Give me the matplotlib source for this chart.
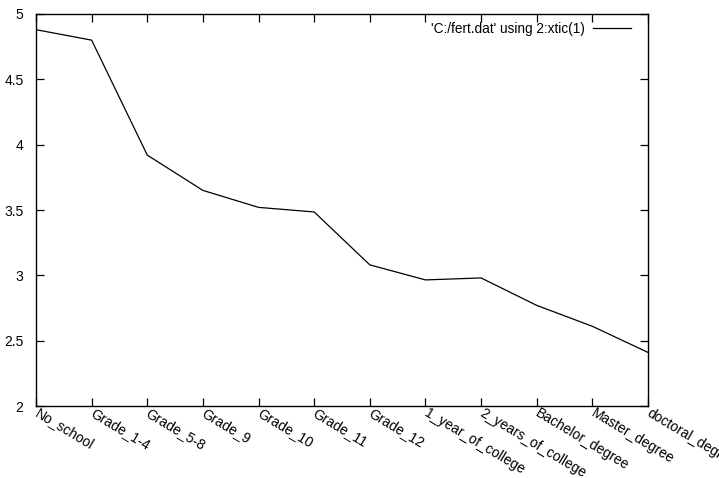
import matplotlib
matplotlib.use("Agg")
import matplotlib.pyplot as plt

plt.rcParams['font.family'] = ['Liberation Sans', 'DejaVu Sans']

# education level vs fertility
categories = ["No_school", "Grade_1-4", "Grade_5-8", "Grade_9", "Grade_10", "Grade_11",
              "Grade_12", "1_year_of_college", "2_years_of_college", "Bachelor_degree",
              "Master_degree", "doctoral_degree"]
fert = [4.88, 4.80, 3.92, 3.65, 3.52, 3.485, 3.08, 2.965, 2.98, 2.77, 2.61, 2.41]
yticks = [2, 2.5, 3, 3.5, 4, 4.5, 5]

fig = plt.figure(figsize=(7.19, 4.78), dpi=100)
ax = fig.add_axes([36 / 719, 72 / 478, 612 / 719, 392 / 478])

x = list(range(len(categories)))
ax.plot(x, fert, color='black', lw=0.9, label="'C:/fert.dat' using 2:xtic(1)")

ax.set_xlim(0, len(categories) - 1)
ax.set_ylim(2, 5)
ax.set_yticks(yticks)
ax.set_yticklabels([f"{v:g}" for v in yticks])
ax.set_xticks(x)
ax.set_xticklabels(categories, rotation=-31, ha='left', va='center', rotation_mode='anchor')

ax.tick_params(direction='in', length=6, width=0.9, top=True, right=True, labelsize=10)
ax.tick_params(axis='x', pad=4)
ax.tick_params(axis='y', pad=9)
for s in ax.spines.values():
    s.set_linewidth(1.0)

ax.legend(loc='upper right', frameon=False, markerfirst=False, fontsize=9.8,
          handlelength=2.8, handletextpad=0.6, borderaxespad=0.2,
          bbox_to_anchor=(0.985, 1.0))

fig.savefig("out.png", dpi=100)
